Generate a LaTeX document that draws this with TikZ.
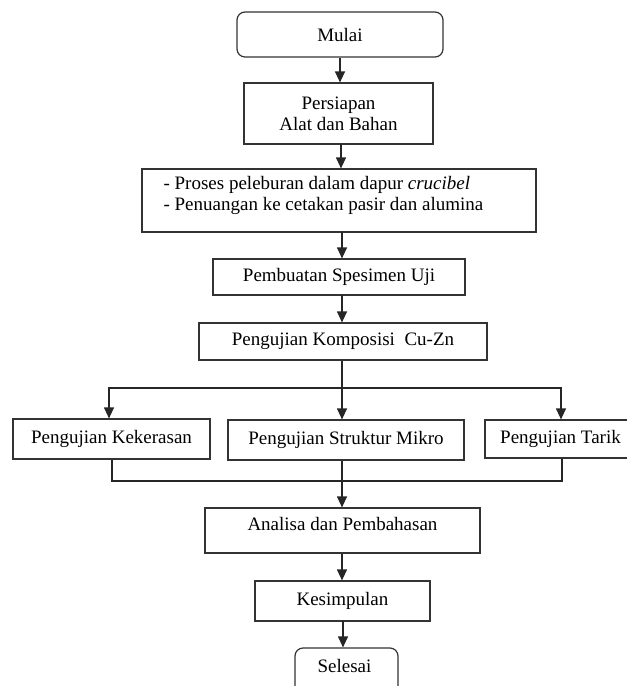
\documentclass[tikz,border=0pt]{standalone}
\usepackage{fontspec}
\setmainfont{Liberation Serif}
\usetikzlibrary{arrows.meta}
\begin{document}
\begin{tikzpicture}[x=1pt,y=-1pt,
  line width=1.2pt,
  every node/.style={font=\fontsize{19}{21}\selectfont},
  box/.style={draw=black!80, line width=1.2pt, inner sep=0pt, align=center},
  rbox/.style={box, rounded corners=8pt},
  txt/.style={inner sep=0pt, align=left},
  arr/.style={draw=black!85, -{Triangle[length=11pt,width=10pt]}},
  ln/.style={draw=black!85}]
\useasboundingbox (0,0) rectangle (627,686);
\node[rbox, minimum width=206pt, minimum height=45pt] (mulai) at (340,34.5) {Mulai};
\node[box, minimum width=189pt, minimum height=61pt] (persiapan) at (338.5,113.5) {Persiapan\\Alat dan Bahan};
\node[box, minimum width=394pt, minimum height=63pt] (proses) at (339,200.5) {};
\node[txt, anchor=west] (prosestxt) at (163,195.5) {- Proses peleburan dalam dapur \textit{crucibel}\\- Penuangan ke cetakan pasir dan alumina};
\node[box, minimum width=252pt, minimum height=36pt] (pembuatan) at (339,277) {Pembuatan Spesimen Uji};
\node[box, minimum width=288pt, minimum height=37pt] (komposisi) at (343,341.5) {Pengujian Komposisi~ Cu-Zn};
\node[box, minimum width=197pt, minimum height=40pt] (kekerasan) at (111.5,439) {Pengujian Kekerasan};
\node[box, minimum width=236pt, minimum height=40pt] (struktur) at (346,440) {Pengujian Struktur Mikro};
\node[box, minimum width=151pt, minimum height=38pt] (tarik) at (560.5,439) {Pengujian Tarik};
\node[box, minimum width=275pt, minimum height=45pt] (analisa) at (342.5,530.5) {};
\node[txt] (analisatxt) at (342.5,523.5) {Analisa dan Pembahasan};
\node[box, minimum width=175pt, minimum height=40pt] (kesimpulan) at (342.5,601) {Kesimpulan};
\node[rbox, minimum width=103pt, minimum height=60pt] (selesai) at (346.5,678) {};
\node[txt] (selesaitxt) at (344.5,666) {Selesai};
% chain
\draw[arr] (mulai.south) -- (mulai.south |- persiapan.north);
\draw[arr] (341,144) coordinate (p1) -- (p1 |- proses.north);
\draw[arr] (342,232) coordinate (p2) -- (p2 |- pembuatan.north);
\draw[arr] (342,295) coordinate (p3) -- (p3 |- komposisi.north);
% branch
\coordinate (br) at (342,388);
\coordinate (bl) at (109,388);
\coordinate (brr) at (561,388);
\draw[ln] (br |- komposisi.south) -- (br);
\draw[arr] (br) -- (br |- struktur.north);
\draw[arr] (br) -- (bl) -- (bl |- kekerasan.north);
\draw[arr] (br) -- (brr) -- (brr |- tarik.north);
% join
\coordinate (jl) at (112,481);
\coordinate (jr) at (562,481);
\coordinate (jm) at (342,481);
\draw[ln] (jl |- kekerasan.south) -- (jl) -- (jr) -- (jr |- tarik.south);
\draw[arr] (jm |- struktur.south) -- (jm |- analisa.north);
\draw[arr] (jm |- analisa.south) -- (jm |- kesimpulan.north);
\draw[arr] (343,621) coordinate (p4) -- (p4 |- selesai.north);
\end{tikzpicture}
\end{document}
